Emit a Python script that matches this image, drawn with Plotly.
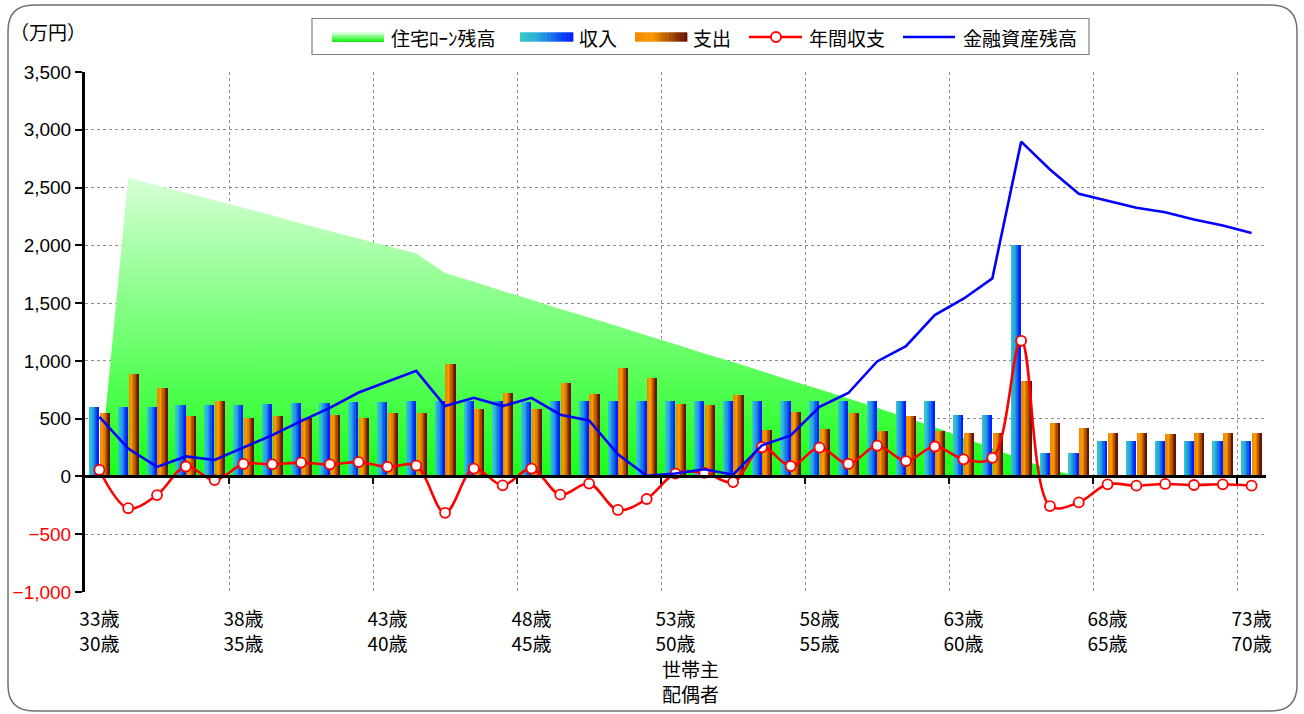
import plotly.graph_objects as go

# ---------------- data ----------------
head_ages = [33, 34, 35, 36, 37, 38, 39, 40, 41, 42, 43, 44, 45, 46, 47, 48, 49, 50, 51, 52,
             53, 54, 55, 56, 57, 58, 59, 60, 61, 62, 63, 64, 65, 66, 67, 68, 69, 70, 71, 72, 73]
tick_head = ["33歳", "38歳", "43歳", "48歳", "53歳", "58歳", "63歳", "68歳", "73歳"]
tick_spouse = ["30歳", "35歳", "40歳", "45歳", "50歳", "55歳", "60歳", "65歳", "70歳"]
series_names = ["住宅ﾛｰﾝ残高", "収入", "支出", "年間収支", "金融資産残高"]

mortgage = [0, 2585, 2520, 2455, 2390, 2325, 2260, 2190, 2125, 2060, 1995, 1930, 1760,
            1685, 1605, 1530, 1450, 1375, 1300, 1220, 1145, 1065, 990, 910, 830, 755, 675,
            595, 510, 425, 335, 245, 150, 60, 0, 0, 0, 0, 0, 0, 0]
income = [600, 600, 600, 615, 615, 615, 625, 633, 633, 640, 640, 649, 649,
          649, 649, 640, 649, 649, 649, 649, 649, 649, 649, 649, 649, 649, 649,
          649, 649, 649, 528, 528, 2000, 201, 201, 303, 303, 303, 303, 303, 303]
expense = [547, 883, 763, 519, 649, 510, 519, 510, 528, 510, 553, 553, 970,
           581, 726, 581, 806, 710, 942, 849, 624, 615, 701, 398, 562, 408, 547,
           389, 519, 389, 380, 374, 822, 460, 423, 374, 380, 364, 380, 374, 380]
balance = [56, -275, -161, 86, -31, 108, 105, 120, 105, 124, 83, 93, -315,
           68, -77, 68, -158, -62, -290, -195, 25, 31, -49, 253, 90, 250, 108,
           266, 133, 259, 148, 161, 1174, -256, -225, -68, -80, -65, -74, -68, -80]
assets = [516, 241, 83, 173, 142, 247, 358, 479, 593, 726, 819, 914, 609,
          680, 609, 680, 534, 485, 192, 6, 25, 62, 15, 269, 355, 602, 722,
          995, 1127, 1396, 1538, 1714, 2897, 2657, 2446, 2388, 2326, 2286, 2224, 2172, 2107]

y_ticks = [-1000, -500, 0, 500, 1000, 1500, 2000, 2500, 3000, 3500]

# ---------------- styling helpers ----------------
JP = "Noto Sans CJK JP"
NUM = "Liberation Sans, Arial, sans-serif"
W, H = 1304, 714
L, R, T, B = 85, 38, 72, 122
PW, PH = W - L - R, H - T - B
Y_MIN, Y_MAX = -1000, 3500


def hex_to_rgb(h):
    h = h.lstrip('#')
    return tuple(int(h[i:i + 2], 16) for i in (0, 2, 4))


def interp(stops, t):
    for (t0, c0), (t1, c1) in zip(stops[:-1], stops[1:]):
        if t0 <= t <= t1:
            f = 0 if t1 == t0 else (t - t0) / (t1 - t0)
            a, b = hex_to_rgb(c0), hex_to_rgb(c1)
            return 'rgb(%d,%d,%d)' % tuple(round(a[i] + (b[i] - a[i]) * f) for i in range(3))
    return stops[-1][1]


def px_x(p):
    return (p - L) / PW


def px_y(p):
    return (H - B - p) / PH


inc_stops = [(0, '#34C8CC'), (0.35, '#26A6DC'), (1, '#0020FF')]
exp_stops = [(0, '#EE8A00'), (0.3, '#FF9A00'), (1, '#681400')]
green_scale = [[0, '#18FF18'], [1, '#D6FFD6']]
green_legend = [(0, '#D8FFD8'), (1, '#18F018')]   # top -> bottom

x = list(range(len(head_ages)))
fig = go.Figure()

# mortgage area on the base subplot (drawn beneath everything)
fig.add_trace(go.Scatter(
    x=x, y=mortgage, mode='none', fill='tozeroy', name=series_names[0],
    fillgradient=dict(type='vertical', colorscale=green_scale, start=0, stop=max(mortgage)),
    hoverinfo='skip'))

# gradient bars built from overlapping strips
N = 8
def add_gradient_bars(values, left, right, stops, name):
    span = right - left
    for k in range(N):
        off = left + span * k / N
        fig.add_trace(go.Bar(
            x=x, y=values, xaxis='x2', yaxis='y2', offset=off, width=right - off,
            marker=dict(color=interp(stops, k / (N - 1)), line=dict(width=0)),
            name=name, hoverinfo='skip'))

add_gradient_bars(income, -0.36, -0.015, inc_stops, series_names[1])
add_gradient_bars(expense, 0.01, 0.355, exp_stops, series_names[2])

fig.add_trace(go.Scatter(
    x=x, y=balance, xaxis='x2', yaxis='y2', mode='lines+markers', name=series_names[3],
    line=dict(color='#FF0000', width=2.6, shape='spline', smoothing=1),
    marker=dict(size=10, color='white', line=dict(color='#FF0000', width=1.8))))

fig.add_trace(go.Scatter(
    x=x, y=assets, xaxis='x2', yaxis='y2', mode='lines', name=series_names[4],
    line=dict(color='#0000FF', width=2.6)))

# ---------------- axes ----------------
xr = [-0.5, len(x) - 0.5]
tick_pos = [head_ages.index(int(t[:-1])) for t in tick_head]
boundaries = [p + 4.5 for p in tick_pos[:-1]]
zero_pos = (0 - Y_MIN) / (Y_MAX - Y_MIN)

ytext = []
for v in y_ticks:
    s = '{:,}'.format(abs(v))
    ytext.append("<span style='color:#FF0000'>−%s</span>" % s if v < 0 else s)

fig.update_layout(
    width=W, height=H, margin=dict(l=L, r=R, t=T, b=B, autoexpand=False),
    paper_bgcolor='white', plot_bgcolor='white',
    barmode='overlay', bargap=0, showlegend=False,
    font=dict(family=JP, size=18, color='black'),
    xaxis=dict(range=xr, tickmode='array', tickvals=tick_pos,
               ticktext=['%s<br>%s' % (a, b) for a, b in zip(tick_head, tick_spouse)],
               showgrid=False, zeroline=False, showline=False, ticks='', automargin=False,
               tickfont=dict(family=JP, size=19), ticklabelstandoff=14),
    xaxis2=dict(range=xr, overlaying='x', anchor='free', position=zero_pos, automargin=False,
                tickmode='array', tickvals=boundaries, showticklabels=False,
                showgrid=True, gridcolor='#8c8c8c', griddash='dot', gridwidth=1,
                showline=True, linecolor='black', linewidth=3,
                ticks='outside', ticklen=6, tickwidth=2, tickcolor='black', zeroline=False),
    yaxis=dict(range=[Y_MIN, Y_MAX], tickmode='array', tickvals=y_ticks, ticktext=ytext,
               showgrid=True, gridcolor='#8c8c8c', griddash='dot', gridwidth=1, automargin=False,
               zeroline=False, showline=True, linecolor='black', linewidth=3,
               ticks='outside', ticklen=7, tickwidth=2, tickcolor='black',
               tickfont=dict(family=NUM, size=19)),
    yaxis2=dict(range=[Y_MIN, Y_MAX], overlaying='y', anchor='x', visible=False),
)

# annotations: unit and axis caption
fig.add_annotation(text='（万円）', xref='paper', yref='paper', x=px_x(8), y=px_y(31),
                   xanchor='left', yanchor='middle', showarrow=False,
                   font=dict(family=JP, size=19))
fig.add_annotation(text='世帯主<br>配偶者', xref='paper', yref='paper', x=px_x(690), y=px_y(681),
                   xanchor='center', yanchor='middle', showarrow=False,
                   font=dict(family=JP, size=19))

# ---------------- legend box (drawn with shapes/annotations) ----------------
def rect(xa, ya, xb, yb, fill, line_color=None, lw=0):
    fig.add_shape(type='rect', xref='paper', yref='paper',
                  x0=px_x(xa), x1=px_x(xb), y0=px_y(ya), y1=px_y(yb),
                  fillcolor=fill, line=dict(color=line_color or fill, width=lw), layer='above')

rect(312, 18.5, 1089, 54.5, 'white', '#808080', 1.2)
LY = 37  # legend row centre

# green swatch (vertical gradient)
gx0, gx1 = 332, 384
steps = 10
for k in range(steps):
    ya = LY - 4.7 + 9.4 * k / steps
    rect(gx0, ya, gx1, ya + 9.4 / steps + 0.4, interp(green_legend, k / (steps - 1)))

# horizontal gradient swatches
for (sx0, sx1), stops in (((520, 573), inc_stops), ((635, 687), exp_stops)):
    steps = 14
    for k in range(steps):
        xa = sx0 + (sx1 - sx0) * k / steps
        rect(xa, LY - 4.7, xa + (sx1 - sx0) / steps + 0.4, LY + 4.7, interp(stops, k / (steps - 1)))

# line swatches
fig.add_shape(type='line', xref='paper', yref='paper', x0=px_x(749), x1=px_x(802),
              y0=px_y(LY), y1=px_y(LY), line=dict(color='#FF0000', width=2.6), layer='above')
fig.add_shape(type='circle', xref='paper', yref='paper', x0=px_x(771), x1=px_x(781),
              y0=px_y(LY - 5), y1=px_y(LY + 5), fillcolor='white',
              line=dict(color='#FF0000', width=1.8), layer='above')
fig.add_shape(type='line', xref='paper', yref='paper', x0=px_x(903), x1=px_x(955),
              y0=px_y(LY), y1=px_y(LY), line=dict(color='#0000FF', width=2.6), layer='above')

for name, tx in zip(series_names, (389, 577, 691, 807, 961)):
    fig.add_annotation(text=name, xref='paper', yref='paper', x=px_x(tx), y=px_y(LY),
                       xanchor='left', yanchor='middle', showarrow=False,
                       font=dict(family=JP, size=19))

# rounded frame around the chart
x0, x1, y0, y1, r = 8, 1297, 5, 711, 26
path = ('M {a},{b} L {c},{b} Q {e},{b} {e},{f} L {e},{g} Q {e},{h} {c},{h} '
        'L {a},{h} Q {i},{h} {i},{g} L {i},{f} Q {i},{b} {a},{b} Z').format(
    a=px_x(x0 + r), b=px_y(y0), c=px_x(x1 - r), e=px_x(x1), f=px_y(y0 + r),
    g=px_y(y1 - r), h=px_y(y1), i=px_x(x0))
fig.add_shape(type='path', path=path, xref='paper', yref='paper',
              line=dict(color='#707070', width=1.5), layer='above')

fig.write_html('out.html', config={'displayModeBar': False},
               post_script="document.body.style.margin='0px';document.body.style.overflow='hidden';")
